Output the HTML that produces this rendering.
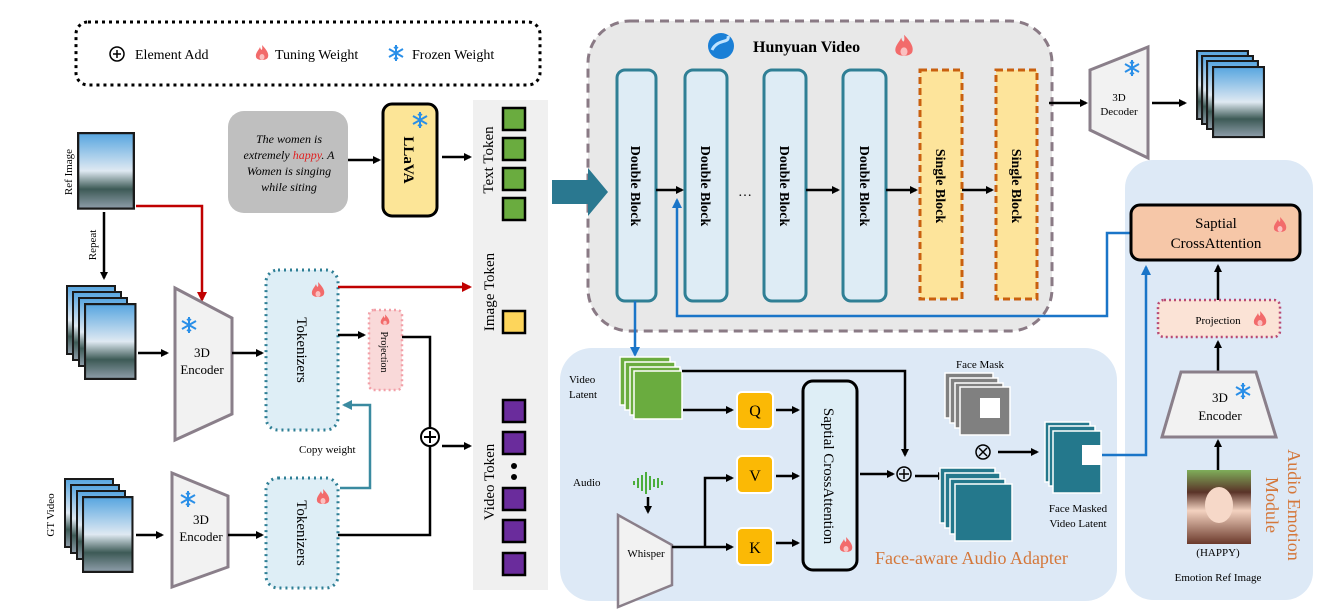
<!DOCTYPE html>
<html><head><meta charset="utf-8"><style>
body{margin:0;background:#fff}
svg{display:block;font-family:"Liberation Serif",serif}
</style></head><body>
<svg width="1336" height="615" viewBox="0 0 1336 615" xmlns="http://www.w3.org/2000/svg">
<defs>
<marker id="ab" markerWidth="8" markerHeight="8" refX="6" refY="4" orient="auto" markerUnits="userSpaceOnUse"><path d="M0,0 L8,4 L0,8 z" fill="#000"/></marker>
<marker id="ar" markerWidth="10" markerHeight="10" refX="8" refY="5" orient="auto" markerUnits="userSpaceOnUse"><path d="M0,0 L10,5 L0,10 z" fill="#c00000"/></marker>
<marker id="abl" markerWidth="10" markerHeight="10" refX="8" refY="5" orient="auto" markerUnits="userSpaceOnUse"><path d="M0,0 L10,5 L0,10 z" fill="#1a75c8"/></marker>
<marker id="at" markerWidth="10" markerHeight="10" refX="8" refY="5" orient="auto" markerUnits="userSpaceOnUse"><path d="M0,0 L10,5 L0,10 z" fill="#3a8aa0"/></marker>
<linearGradient id="ph" x1="0" y1="0" x2="0" y2="1"><stop offset="0" stop-color="#5aa7e0"/><stop offset="0.5" stop-color="#dfe9f2"/><stop offset="0.75" stop-color="#3d5a56"/><stop offset="1" stop-color="#8a9aa5"/></linearGradient>
<linearGradient id="face" x1="0" y1="0" x2="0" y2="1"><stop offset="0" stop-color="#7fae5a"/><stop offset="0.3" stop-color="#5a3328"/><stop offset="0.55" stop-color="#f3d2c0"/><stop offset="1" stop-color="#6b3a2c"/></linearGradient>
<g id="fl"><path d="M0,-8 C5,-3 7,1 6,4 C5,8 -5,8 -6,4 C-7,0 -3,-3 -2,-6 C-1,-2 1,-2 0,-8z" fill="#f26b6b"/><ellipse cx="0" cy="4" rx="2.5" ry="3" fill="#fbc0c0"/></g>
<g id="sn" stroke="#2a8fe8" stroke-width="2" fill="none"><path d="M0,-8V8M-7,-4L7,4M-7,4L7,-4"/><path d="M-2,-6L0,-4L2,-6M-2,6L0,4L2,6" stroke-width="1.5"/></g>
<g id="frm"><rect x="0" y="0" width="50" height="70" fill="#1a1a1a"/><rect x="2" y="2" width="46" height="66" fill="url(#ph)"/></g>
</defs>

<!-- legend -->
<rect x="76" y="22" width="464" height="63" rx="12" fill="none" stroke="#000" stroke-width="3" stroke-dasharray="3,4"/>
<circle cx="117" cy="54" r="7" fill="none" stroke="#000" stroke-width="1.5"/><path d="M113,54h8M117,50v8" stroke="#000" stroke-width="1.5"/>
<text x="135" y="59" font-size="14">Element Add</text>
<use href="#fl" x="262" y="53"/>
<text x="275" y="59" font-size="14">Tuning Weight</text>
<use href="#sn" x="396" y="53"/>
<text x="412" y="59" font-size="14">Frozen Weight</text>

<!-- Ref image -->
<use href="#frm" transform="translate(77,132) scale(1.16,1.11)"/>
<text transform="translate(72,172) rotate(-90)" font-size="11" text-anchor="middle">Ref Image</text>
<line x1="104" y1="212" x2="104" y2="278" stroke="#000" stroke-width="2.5" marker-end="url(#ab)"/>
<text transform="translate(96,245) rotate(-90)" font-size="11" text-anchor="middle">Repeat</text>
<polyline points="136,206 202,206 202,300" fill="none" stroke="#c00000" stroke-width="2.5" marker-end="url(#ar)"/>

<!-- stack 1 -->
<use href="#frm" x="66" y="285"/><use href="#frm" x="72" y="291"/><use href="#frm" x="78" y="297"/>
<use href="#frm" transform="translate(84,303) scale(1.05,1.1)"/>
<line x1="138" y1="353" x2="167" y2="353" stroke="#000" stroke-width="2.5" marker-end="url(#ab)"/>
<polygon points="175,288 232,318 232,414 175,440" fill="#f2f2f2" stroke="#8a7f8a" stroke-width="3"/>
<use href="#sn" x="189" y="325"/>
<text x="202" y="357" font-size="13" text-anchor="middle">3D</text><text x="202" y="374" font-size="13" text-anchor="middle">Encoder</text>
<line x1="232" y1="353" x2="262" y2="353" stroke="#000" stroke-width="2.5" marker-end="url(#ab)"/>

<!-- tokenizer 1 -->
<rect x="266" y="270" width="72" height="160" rx="12" fill="#deeef6" stroke="#2f7f95" stroke-width="3" stroke-dasharray="2,4"/>
<use href="#fl" x="318" y="290"/>
<text transform="translate(297,350) rotate(90)" font-size="15" text-anchor="middle">Tokenizers</text>
<line x1="338" y1="287" x2="470" y2="287" stroke="#c00000" stroke-width="2.5" marker-end="url(#ar)"/>
<line x1="338" y1="335" x2="364" y2="335" stroke="#000" stroke-width="2.5" marker-end="url(#ab)"/>
<rect x="369" y="310" width="33" height="80" rx="5" fill="#f9d9d9" stroke="#f2a0a8" stroke-width="2.5" stroke-dasharray="2,3"/>
<use href="#fl" transform="translate(385,320) scale(0.7)"/>
<text transform="translate(381,352) rotate(90)" font-size="10" text-anchor="middle">Projection</text>
<polyline points="402,337 430,337 430,428" fill="none" stroke="#000" stroke-width="2.5"/>
<polyline points="338,535 430,535 430,446" fill="none" stroke="#000" stroke-width="2.5"/>
<circle cx="430" cy="437" r="9" fill="#fff" stroke="#000" stroke-width="2"/><path d="M424,437h12M430,431v12" stroke="#000" stroke-width="2"/>
<line x1="442" y1="446" x2="470" y2="446" stroke="#000" stroke-width="2.5" marker-end="url(#ab)"/>
<polyline points="340,488 370,488 370,405 344,405" fill="none" stroke="#3a8aa0" stroke-width="2.5" marker-end="url(#at)"/>
<text x="299" y="453" font-size="11">Copy weight</text>

<!-- GT video -->
<text transform="translate(54,515) rotate(-90)" font-size="11" text-anchor="middle">GT Video</text>
<use href="#frm" x="64" y="478"/><use href="#frm" x="70" y="484"/><use href="#frm" x="76" y="490"/>
<use href="#frm" transform="translate(82,496) scale(1.03,1.1)"/>
<line x1="136" y1="535" x2="162" y2="535" stroke="#000" stroke-width="2.5" marker-end="url(#ab)"/>
<polygon points="172,473 228,496 228,567 172,587" fill="#f2f2f2" stroke="#8a7f8a" stroke-width="3"/>
<use href="#sn" x="188" y="499"/>
<text x="201" y="524" font-size="13" text-anchor="middle">3D</text><text x="201" y="541" font-size="13" text-anchor="middle">Encoder</text>
<line x1="228" y1="535" x2="262" y2="535" stroke="#000" stroke-width="2.5" marker-end="url(#ab)"/>
<rect x="266" y="478" width="72" height="110" rx="12" fill="#deeef6" stroke="#2f7f95" stroke-width="3" stroke-dasharray="2,4"/>
<use href="#fl" x="323" y="497"/>
<text transform="translate(297,533) rotate(90)" font-size="15" text-anchor="middle">Tokenizers</text>

<!-- prompt + LLaVA -->
<rect x="228" y="111" width="120" height="102" rx="16" fill="#bfbfbf"/>
<g font-size="12" font-style="italic" text-anchor="middle"><text x="289" y="143">The women is</text><text x="289" y="159">extremely <tspan fill="#e02020">happy</tspan>. A</text><text x="289" y="175">Women is singing</text><text x="289" y="191">while siting</text></g>
<line x1="348" y1="160" x2="379" y2="160" stroke="#000" stroke-width="2.5" marker-end="url(#ab)"/>
<rect x="383" y="104" width="54" height="112" rx="9" fill="#fce597" stroke="#000" stroke-width="3"/>
<use href="#sn" x="420" y="120"/>
<text transform="translate(404,160) rotate(90)" font-size="15" font-weight="bold" text-anchor="middle">LLaVA</text>
<line x1="442" y1="157" x2="470" y2="157" stroke="#000" stroke-width="2.5" marker-end="url(#ab)"/>

<!-- token column -->
<rect x="473" y="100" width="75" height="490" fill="#f0f0f0"/>
<text transform="translate(493,160) rotate(-90)" font-size="15" text-anchor="middle">Text Token</text>
<text transform="translate(494,292) rotate(-90)" font-size="15" text-anchor="middle">Image Token</text>
<text transform="translate(494,482) rotate(-90)" font-size="15" text-anchor="middle">Video Token</text>
<g stroke="#000" stroke-width="2.5" fill="#6aac3f"><rect x="503" y="108" width="22" height="22"/><rect x="503" y="138" width="22" height="22"/><rect x="503" y="168" width="22" height="22"/><rect x="503" y="198" width="22" height="22"/></g>
<rect x="503" y="311" width="22" height="22" fill="#fdd55b" stroke="#000" stroke-width="2.5"/>
<g stroke="#000" stroke-width="2.5" fill="#6a2c9c"><rect x="503" y="400" width="22" height="22"/><rect x="503" y="432" width="22" height="22"/><rect x="503" y="488" width="22" height="22"/><rect x="503" y="520" width="22" height="22"/><rect x="503" y="553" width="22" height="22"/></g>
<circle cx="514" cy="466" r="3"/><circle cx="514" cy="477" r="3"/>

<!-- Hunyuan -->
<rect x="588" y="21" width="464" height="310" rx="42" fill="#e8e8e8" stroke="#8a7a85" stroke-width="3" stroke-dasharray="9,6"/>
<!-- big arrow -->
<polygon points="552,180 588,180 588,168 608,192 588,216 588,204 552,204" fill="#2a7890"/>
<circle cx="721" cy="46" r="13" fill="#1a7fd6"/><path d="M712,50 C718,38 730,44 728,36" stroke="#bfe3ff" stroke-width="3" fill="none"/>
<text x="753" y="52" font-size="16" font-weight="bold">Hunyuan Video</text>
<use href="#fl" transform="translate(904,46) scale(1.4)"/>
<g fill="#deecf5" stroke="#2f7f95" stroke-width="3">
<rect x="617" y="70" width="39" height="231" rx="8"/><rect x="685" y="70" width="42" height="231" rx="8"/><rect x="764" y="70" width="42" height="231" rx="8"/><rect x="843" y="70" width="43" height="231" rx="8"/></g>
<g fill="#fde49b" stroke="#c9600f" stroke-width="3" stroke-dasharray="7,4">
<rect x="920" y="70" width="42" height="229"/><rect x="996" y="70" width="41" height="229"/></g>
<g font-size="14" font-weight="bold" text-anchor="middle">
<text transform="translate(631,186) rotate(90)">Double Block</text>
<text transform="translate(701,186) rotate(90)">Double Block</text>
<text transform="translate(780,186) rotate(90)">Double Block</text>
<text transform="translate(860,186) rotate(90)">Double Block</text>
<text transform="translate(936,186) rotate(90)">Single Block</text>
<text transform="translate(1012,186) rotate(90)">Single Block</text></g>
<g stroke="#000" stroke-width="2.5" marker-end="url(#ab)">
<line x1="656" y1="190" x2="682" y2="190"/><line x1="806" y1="190" x2="838" y2="190"/><line x1="886" y1="190" x2="916" y2="190"/><line x1="962" y1="190" x2="992" y2="190"/>
<line x1="1049" y1="103" x2="1086" y2="103"/><line x1="1152" y1="103" x2="1185" y2="103"/></g>
<text x="745" y="196" font-size="14" text-anchor="middle">…</text>
<polygon points="1090,70 1148,47 1148,158 1090,130" fill="#f2f2f2" stroke="#8a7f8a" stroke-width="3"/>
<use href="#sn" x="1132" y="68"/>
<text x="1119" y="101" font-size="11" text-anchor="middle">3D</text><text x="1119" y="115" font-size="11" text-anchor="middle">Decoder</text>
<use href="#frm" transform="translate(1196,50) scale(1.06,1)"/><use href="#frm" transform="translate(1201,55) scale(1.06,1)"/><use href="#frm" transform="translate(1206,60) scale(1.06,1)"/><use href="#frm" transform="translate(1212,66) scale(1.06,1.03)"/>

<!-- Face-aware panel -->
<rect x="560" y="348" width="557" height="253" rx="32" fill="#dde9f6"/>
<!-- audio emotion panel -->
<rect x="1125" y="160" width="188" height="440" rx="28" fill="#dde9f6"/>

<!-- blue lines -->
<line x1="635" y1="301" x2="635" y2="355" stroke="#1a75c8" stroke-width="2.5" marker-end="url(#abl)"/>
<polyline points="1131,233 1107,233 1107,316 677,316 677,200" fill="none" stroke="#1a75c8" stroke-width="2.5" marker-end="url(#abl)"/>
<polyline points="1100,455 1146,455 1146,267" fill="none" stroke="#1a75c8" stroke-width="2.5" marker-end="url(#abl)"/>

<!-- video latent -->
<g fill="#6aac3f" stroke="#fff" stroke-width="1.5"><rect x="620" y="357" width="50" height="48"/><rect x="625" y="362" width="50" height="48"/><rect x="630" y="367" width="50" height="48"/><rect x="634" y="371" width="48" height="48"/></g>
<text x="569" y="383" font-size="11">Video</text><text x="569" y="398" font-size="11">Latent</text>
<polyline points="682,371 905,371 905,455" fill="none" stroke="#000" stroke-width="2.5" marker-end="url(#ab)"/>
<line x1="683" y1="410" x2="732" y2="410" stroke="#000" stroke-width="2.5" marker-end="url(#ab)"/>
<g fill="#fbb905" stroke="#fff" stroke-width="2"><rect x="737" y="392" width="36" height="37" rx="5"/><rect x="737" y="456" width="36" height="37" rx="5"/><rect x="737" y="528" width="36" height="37" rx="5"/></g>
<g font-size="16" text-anchor="middle"><text x="755" y="416">Q</text><text x="755" y="481">V</text><text x="755" y="553">K</text></g>
<g stroke="#000" stroke-width="2.5" marker-end="url(#ab)"><line x1="776" y1="410" x2="798" y2="410"/><line x1="776" y1="476" x2="798" y2="476"/><line x1="776" y1="543" x2="798" y2="543"/></g>
<rect x="803" y="381" width="54" height="189" rx="10" fill="#deeef6" stroke="#000" stroke-width="3"/>
<text transform="translate(824,476) rotate(90)" font-size="15" text-anchor="middle">Saptial CrossAttention</text>
<use href="#fl" x="846" y="545"/>
<text x="573" y="486" font-size="11">Audio</text>
<g stroke="#4cae3c" stroke-width="2"><path d="M634,481v4M638,478v10M642,475v16M646,472v22M650,476v14M654,479v8M658,478v10M662,481v4"/></g>
<line x1="648" y1="497" x2="648" y2="512" stroke="#000" stroke-width="2.5" marker-end="url(#ab)"/>
<polygon points="618,515 672,545 672,585 618,607" fill="#f2f2f2" stroke="#8a7f8a" stroke-width="2.5"/>
<text x="646" y="557" font-size="11" text-anchor="middle">Whisper</text>
<polyline points="672,547 732,547" fill="none" stroke="#000" stroke-width="2.5" marker-end="url(#ab)"/>
<polyline points="705,547 705,478 732,478" fill="none" stroke="#000" stroke-width="2.5" marker-end="url(#ab)"/>
<line x1="860" y1="474" x2="893" y2="474" stroke="#000" stroke-width="2.5" marker-end="url(#ab)"/>
<circle cx="904" cy="474" r="7" fill="none" stroke="#000" stroke-width="1.5"/><path d="M899,474h10M904,469v10" stroke="#000" stroke-width="1.5"/>
<line x1="915" y1="476" x2="944" y2="476" stroke="#000" stroke-width="2.5" marker-end="url(#ab)"/>
<g fill="#24788c" stroke="#fff" stroke-width="1.5"><rect x="940" y="468" width="55" height="55"/><rect x="945" y="473" width="55" height="55"/><rect x="950" y="479" width="55" height="55"/><rect x="955" y="484" width="57" height="57"/></g>
<text x="980" y="368" font-size="11" text-anchor="middle">Face Mask</text>
<g fill="#808080" stroke="#fff" stroke-width="1.5"><rect x="945" y="373" width="48" height="45"/><rect x="950" y="378" width="48" height="45"/><rect x="955" y="383" width="48" height="45"/><rect x="960" y="387" width="50" height="48"/></g>
<rect x="980" y="398" width="20" height="20" fill="#fff"/>
<circle cx="983" cy="452" r="7" fill="none" stroke="#000" stroke-width="1.5"/><path d="M979,448l8,8M987,448l-8,8" stroke="#000" stroke-width="1.5"/>
<line x1="998" y1="452" x2="1037" y2="452" stroke="#000" stroke-width="2.5" marker-end="url(#ab)"/>
<g fill="#24788c" stroke="#fff" stroke-width="1.5"><rect x="1045" y="422" width="45" height="60"/><rect x="1049" y="426" width="46" height="60"/><rect x="1053" y="431" width="48" height="62"/></g>
<rect x="1082" y="445" width="20" height="20" fill="#fff"/>
<text x="1078" y="512" font-size="11" text-anchor="middle">Face Masked</text><text x="1078" y="527" font-size="11" text-anchor="middle">Video Latent</text>
<text x="875" y="564" font-size="18" fill="#d4773a">Face-aware Audio Adapter</text>

<!-- audio emotion module -->
<rect x="1131" y="205" width="169" height="55" rx="9" fill="#f6c7a8" stroke="#000" stroke-width="3"/>
<text x="1216" y="228" font-size="15" text-anchor="middle">Saptial</text><text x="1216" y="248" font-size="15" text-anchor="middle">CrossAttention</text>
<use href="#fl" x="1280" y="225"/>
<line x1="1218" y1="300" x2="1218" y2="266" stroke="#000" stroke-width="2.5" marker-end="url(#ab)"/>
<rect x="1158" y="300" width="122" height="37" rx="6" fill="#fbe3d6" stroke="#b84a74" stroke-width="2.5" stroke-dasharray="2,3"/>
<text x="1218" y="324" font-size="11" text-anchor="middle">Projection</text>
<use href="#fl" x="1260" y="319"/>
<line x1="1218" y1="372" x2="1218" y2="342" stroke="#000" stroke-width="2.5" marker-end="url(#ab)"/>
<polygon points="1181,372 1256,372 1276,437 1162,437" fill="#f2f2f2" stroke="#8a7f8a" stroke-width="3"/>
<use href="#sn" x="1243" y="391"/>
<text x="1220" y="402" font-size="13" text-anchor="middle">3D</text><text x="1220" y="420" font-size="13" text-anchor="middle">Encoder</text>
<line x1="1218" y1="470" x2="1218" y2="441" stroke="#000" stroke-width="2.5" marker-end="url(#ab)"/>
<rect x="1187" y="470" width="64" height="74" fill="url(#face)"/>
<ellipse cx="1219" cy="505" rx="14" ry="18" fill="#f6d8c8"/>
<text x="1218" y="556" font-size="11" text-anchor="middle">(HAPPY)</text>
<text x="1218" y="581" font-size="11" text-anchor="middle">Emotion Ref Image</text>
<text transform="translate(1288,505) rotate(90)" font-size="18" fill="#d4773a" text-anchor="middle">Audio Emotion</text>
<text transform="translate(1266,505) rotate(90)" font-size="18" fill="#d4773a" text-anchor="middle">Module</text>
</svg>
</body></html>
